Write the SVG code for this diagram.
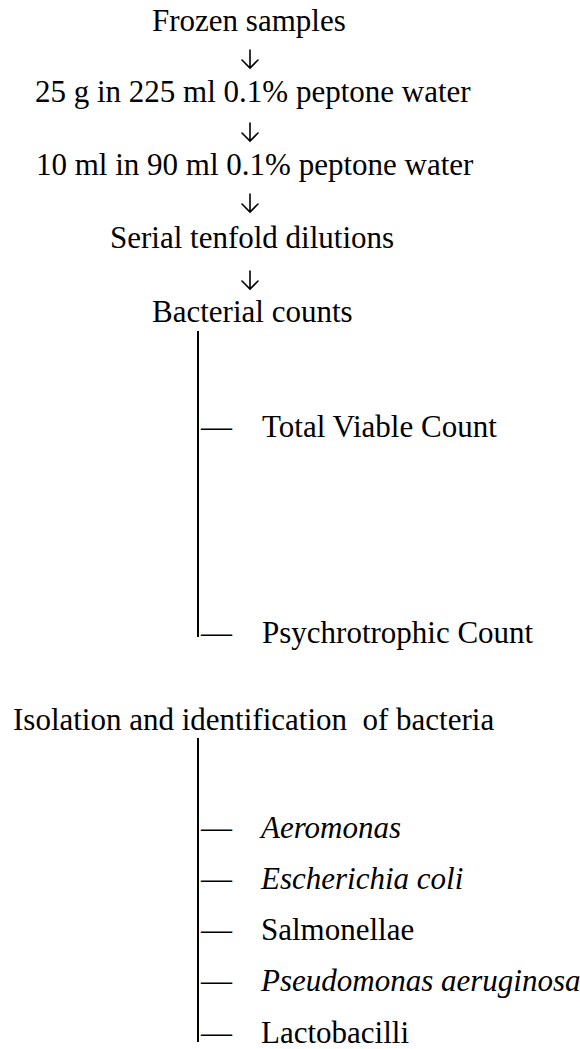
<svg xmlns="http://www.w3.org/2000/svg" width="580" height="1049" viewBox="0 0 580 1049">
<style>
text{font-family:"Liberation Serif","Times New Roman",serif;font-size:31px;fill:#000}
.it{font-style:italic}
.ln{stroke:#000;stroke-width:2;fill:none}
.ar{stroke:#000;stroke-width:1.6;fill:none;stroke-linecap:round;stroke-linejoin:miter}
</style>
<defs>
<path id="arrow" class="ar" d="M0,0 V18 M-8,10 L0,18 L8,10"/>
</defs>
<rect width="580" height="1049" fill="#fff"/>
<g id="n-frozen"><text x="152" y="31">Frozen samples</text></g>
<g id="n-25g"><text x="35" y="102">25 g in 225 ml 0.1% peptone water</text></g>
<g id="n-10ml"><text x="36" y="175">10 ml in 90 ml 0.1% peptone water</text></g>
<g id="n-serial"><text x="110" y="248">Serial tenfold dilutions</text></g>
<g id="n-bact"><text x="152" y="322">Bacterial counts</text></g>
<g id="n-tvc"><text x="262" y="437">Total Viable Count</text></g>
<g id="n-psy"><text x="262" y="643">Psychrotrophic Count</text></g>
<g id="n-iso"><text x="13" y="730" xml:space="preserve">Isolation and identification  of bacteria</text></g>
<g id="n-aer"><text class="it" x="261" y="838">Aeromonas</text></g>
<g id="n-eco"><text class="it" x="261" y="889">Escherichia coli</text></g>
<g id="n-sal"><text x="261" y="940">Salmonellae</text></g>
<g id="n-pse"><text class="it" x="261" y="991">Pseudomonas aeruginosa</text></g>
<g id="n-lac"><text x="261" y="1043">Lactobacilli</text></g>
<g id="connectors">
<use href="#arrow" x="250" y="50"/>
<use href="#arrow" x="250" y="123"/>
<use href="#arrow" x="250" y="194"/>
<use href="#arrow" x="250" y="271"/>
<line class="ln" x1="198" y1="331" x2="198" y2="637"/>
<text x="201" y="437">—</text>
<text x="201" y="643">—</text>
<line class="ln" x1="198" y1="738" x2="198" y2="1042"/>
<text x="201" y="838">—</text>
<text x="201" y="889">—</text>
<text x="201" y="940">—</text>
<text x="201" y="991">—</text>
<text x="201" y="1043">—</text>
</g>
</svg>
